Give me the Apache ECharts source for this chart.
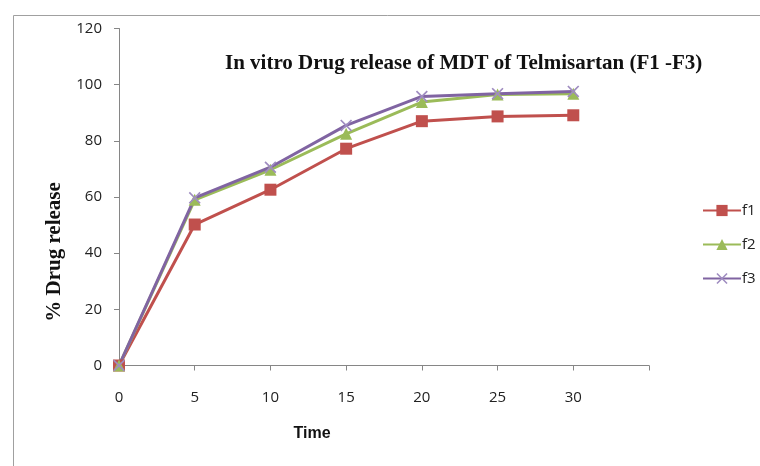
<!DOCTYPE html>
<html lang="en">
<head>
    <meta charset="UTF-8">
    <title>In vitro Drug release of MDT of Telmisartan (F1 -F3)</title>
    <script src="https://cdn.jsdelivr.net/npm/echarts@6.0.0/dist/echarts.min.js"></script>
    <style>
        body {
            margin: 0;
            padding: 0;
            background-color: #fff;
        }

        #chart {
            width: 760px;
            height: 466px;
        }
    </style>
</head>
<body>

<div id="chart"></div>

<script>
    // time points (x) and % drug release for each formulation
    const times = [0, 5, 10, 15, 20, 25, 30];
    const f1 = [0, 50.2, 62.6, 77.2, 87.0, 88.7, 89.1];
    const f2 = [0, 59.0, 69.7, 82.5, 93.8, 96.5, 96.8];
    const f3 = [0, 59.7, 70.6, 85.5, 95.8, 96.8, 97.6];
    const yTicks = [0, 20, 40, 60, 80, 100, 120];

    const pairs = (ys) => times.map((t, i) => [t, ys[i]]);

    const crossSymbol = 'path://M0,1L1,0L5,4L9,0L10,1L6,5L10,9L9,10L5,6L1,10L0,9L4,5Z';

    const chart = echarts.init(document.getElementById('chart'));

    const axisColor = '#868686';
    const labelFont = { fontFamily: 'Open Sans', fontSize: 15, color: '#222' };

    const option = {
        backgroundColor: '#fff',
        animation: false,
        title: {
            text: 'In vitro Drug release of MDT of Telmisartan (F1 -F3)',
            left: 220,
            top: 48,
            textStyle: {
                fontFamily: 'Liberation Serif',
                fontWeight: 'bold',
                fontSize: 21,
                color: '#111'
            }
        },
        grid: { left: 119, right: 111, top: 28.5, bottom: 100.5 },
        legend: {
            orient: 'vertical',
            left: 697,
            top: 198,
            itemWidth: 38,
            itemHeight: 14,
            itemGap: 19,
            textStyle: { fontFamily: 'Open Sans', fontSize: 15, color: '#222', padding: [0, 0, 0, -4] },
            data: ['f1', 'f2', 'f3']
        },
        xAxis: {
            type: 'value',
            min: 0,
            max: 35,
            interval: 5,
            name: 'Time',
            nameLocation: 'middle',
            nameGap: 60,
            nameTextStyle: {
                fontFamily: 'Liberation Sans',
                fontWeight: 'bold',
                fontSize: 16,
                color: '#111',
                padding: [0, 144, 0, 0]
            },
            axisLine: { lineStyle: { color: axisColor } },
            axisTick: { show: true, length: 5, lineStyle: { color: axisColor } },
            axisLabel: Object.assign({
                margin: 25,
                formatter: (v) => (times.includes(v) ? String(v) : '')
            }, labelFont),
            splitLine: { show: false }
        },
        yAxis: {
            type: 'value',
            min: yTicks[0],
            max: yTicks[yTicks.length - 1],
            interval: 20,
            name: '% Drug release',
            nameLocation: 'middle',
            nameGap: 52,
            nameTextStyle: {
                fontFamily: 'Liberation Serif',
                fontWeight: 'bold',
                fontSize: 21,
                color: '#111',
                padding: [0, 110, 0, 0]
            },
            axisLine: { show: true, lineStyle: { color: axisColor } },
            axisTick: { show: true, length: 5, lineStyle: { color: axisColor } },
            axisLabel: Object.assign({ margin: 17 }, labelFont),
            splitLine: { show: false }
        },
        graphic: [{
            type: 'rect',
            left: 11,
            top: 13,
            shape: { width: 800, height: 500 },
            style: { fill: 'none', stroke: '#a0a0a0', lineWidth: 1 },
            silent: true,
            z: -1
        }],
        series: [
            {
                name: 'f1',
                type: 'line',
                data: pairs(f1),
                symbol: 'rect',
                symbolSize: 12,
                lineStyle: { color: '#C0504D', width: 3 },
                itemStyle: { color: '#C0504D' }
            },
            {
                name: 'f2',
                type: 'line',
                data: pairs(f2),
                symbol: 'triangle',
                symbolSize: 12,
                lineStyle: { color: '#9BBB59', width: 3 },
                itemStyle: { color: '#9BBB59' }
            },
            {
                name: 'f3',
                type: 'line',
                data: pairs(f3),
                symbol: crossSymbol,
                symbolSize: 12,
                lineStyle: { color: '#8064A2', width: 3 },
                itemStyle: { color: '#9F8CC0' }
            }
        ]
    };

    chart.setOption(option);
</script>
</body>
</html>
